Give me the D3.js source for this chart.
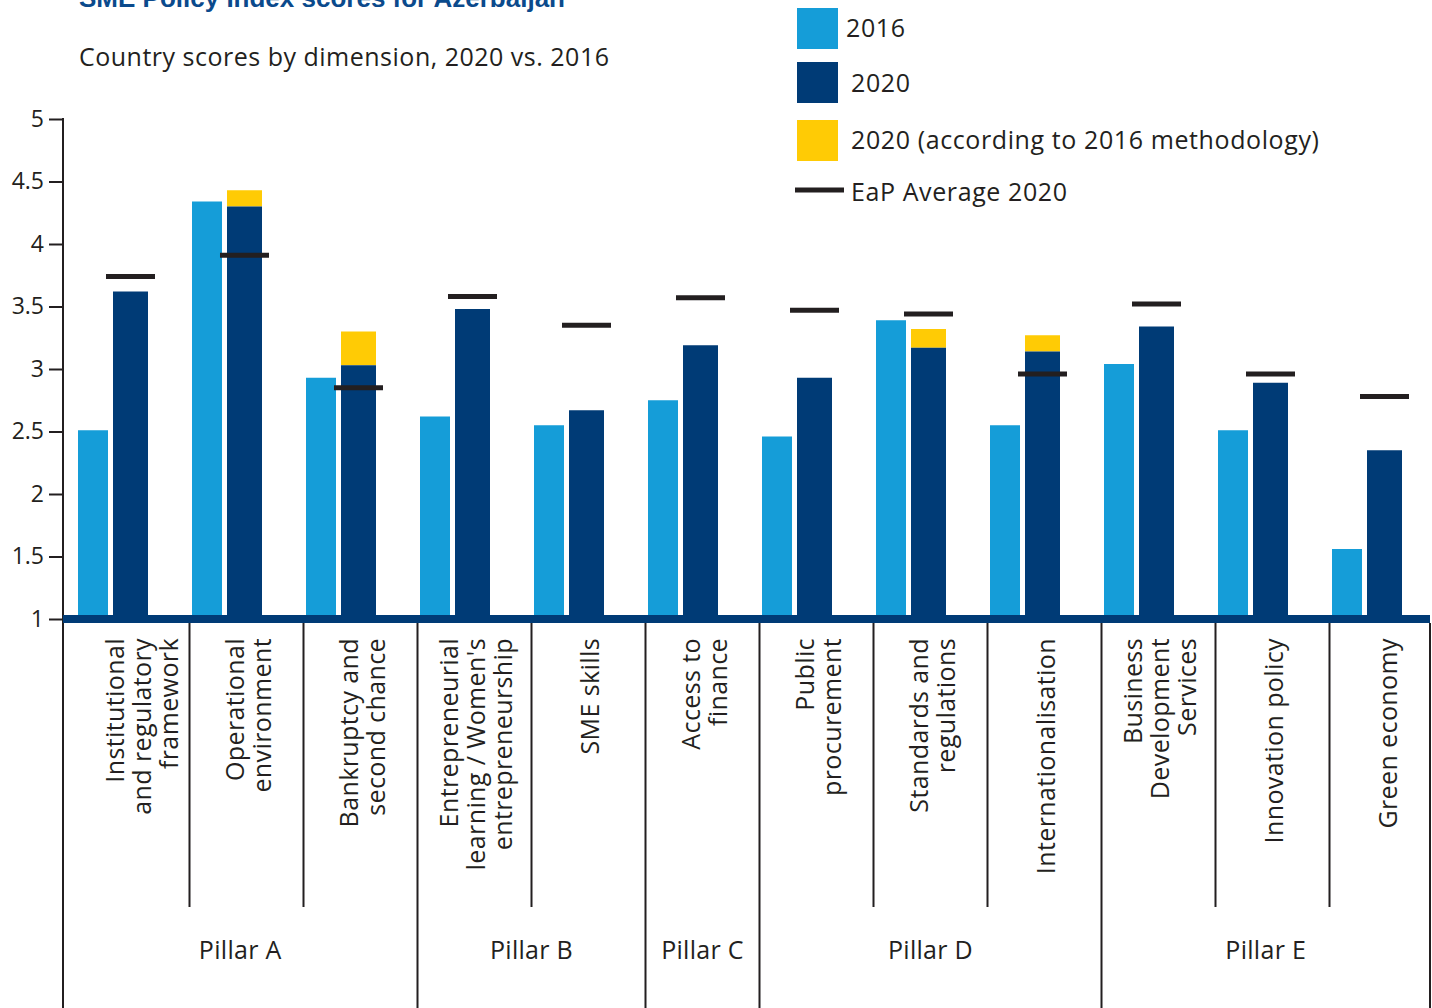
<!DOCTYPE html>
<html>
<head>
<meta charset="utf-8">
<script src="https://cdn.jsdelivr.net/npm/d3@7"></script>
<style>
  html, body { margin: 0; padding: 0; background: #fff; }
  svg { display: block; font-family: "Open Sans", "DejaVu Sans", sans-serif; }
</style>
</head>
<body>
<svg id="chart" width="1432" height="1008"></svg>
<script>
// SME Policy Index – Azerbaijan, scores per dimension
const categories = [
  ["Institutional", "and regulatory", "framework"],
  ["Operational", "environment"],
  ["Bankruptcy and", "second chance"],
  ["Entrepreneurial", "learning / Women's", "entrepreneurship"],
  ["SME skills"],
  ["Access to", "finance"],
  ["Public", "procurement"],
  ["Standards and", "regulations"],
  ["Internationalisation"],
  ["Business", "Development", "Services"],
  ["Innovation policy"],
  ["Green economy"]
];
const scores2016 = [2.51, 4.34, 2.93, 2.62, 2.55, 2.75, 2.46, 3.39, 2.55, 3.04, 2.51, 1.56];
const scores2020 = [3.62, 4.30, 3.03, 3.48, 2.67, 3.19, 2.93, 3.17, 3.14, 3.34, 2.89, 2.35];
const scores2020Old = [null, 4.43, 3.30, null, null, null, null, 3.32, 3.27, null, null, null];
const eapAverage = [3.74, 3.91, 2.85, 3.58, 3.35, 3.57, 3.47, 3.44, 2.96, 3.52, 2.96, 2.78];
const pillarNames = ["Pillar A", "Pillar B", "Pillar C", "Pillar D", "Pillar E"];
const pillarSizes = [3, 2, 1, 3, 3];
const yTicks = [1, 1.5, 2, 2.5, 3, 3.5, 4, 4.5, 5];
const legendItems = ["2016", "2020", "2020 (according to 2016 methodology)", "EaP Average 2020"];

const C16 = "#159dd8", C20 = "#003b76", COLD = "#ffcb05", INK = "#231f20";

const svg = d3.select("#chart");
const keys = categories.map((d, i) => "c" + i);

const axisX = 63, rightX = 1430;
const x = d3.scaleBand().domain(keys).range([78, 1402]).paddingInner(0.386).paddingOuter(0);
const step = x.step();
const y = d3.scaleLinear().domain([1, 5]).range([619, 119]);
const w16 = 30, gap = 5, w20 = x.bandwidth() - w16 - gap;

// Title and subtitle
svg.append("text").attr("x", 79).attr("y", 7)
  .attr("font-family", "Liberation Sans, Arial, sans-serif")
  .attr("font-weight", 700).attr("font-size", 26).attr("fill", "#0b4a8c")
  .text("SME Policy Index scores for Azerbaijan");
svg.append("text").attr("x", 79).attr("y", 66)
  .attr("font-size", 25).attr("letter-spacing", 0.5).attr("fill", INK)
  .text("Country scores by dimension, 2020 vs. 2016");

// Y axis
const yAxis = svg.append("g").attr("transform", `translate(${axisX},0)`)
  .call(d3.axisLeft(y).tickValues(yTicks).tickSize(14).tickPadding(5).tickFormat(d3.format("")));
yAxis.select(".domain").remove();
yAxis.selectAll(".tick line").attr("stroke", INK).attr("stroke-width", 2);
yAxis.selectAll(".tick text").attr("font-size", 23).attr("fill", INK)
  .attr("font-family", "Open Sans, sans-serif");
svg.append("line").attr("x1", axisX).attr("x2", axisX).attr("y1", y(5) - 1).attr("y2", 1008)
  .attr("stroke", INK).attr("stroke-width", 2);

// Bars
const rows = keys.map((k, i) => ({ k, i }));
svg.append("g").selectAll("rect").data(rows).join("rect")
  .attr("x", d => x(d.k)).attr("width", w16)
  .attr("y", d => y(scores2016[d.i])).attr("height", d => y(1) - y(scores2016[d.i]))
  .attr("fill", C16);
svg.append("g").selectAll("rect").data(rows.filter(d => scores2020Old[d.i] != null)).join("rect")
  .attr("x", d => x(d.k) + w16 + gap).attr("width", w20)
  .attr("y", d => y(scores2020Old[d.i])).attr("height", d => y(scores2020[d.i]) - y(scores2020Old[d.i]))
  .attr("fill", COLD);
svg.append("g").selectAll("rect").data(rows).join("rect")
  .attr("x", d => x(d.k) + w16 + gap).attr("width", w20)
  .attr("y", d => y(scores2020[d.i])).attr("height", d => y(1) - y(scores2020[d.i]))
  .attr("fill", C20);

// EaP average markers
svg.append("g").selectAll("line").data(rows).join("line")
  .attr("x1", d => x(d.k) + w16 + gap + w20 / 2 - 24.5)
  .attr("x2", d => x(d.k) + w16 + gap + w20 / 2 + 24.5)
  .attr("y1", d => y(eapAverage[d.i])).attr("y2", d => y(eapAverage[d.i]))
  .attr("stroke", INK).attr("stroke-width", 5);

// Baseline band
svg.append("rect").attr("x", axisX).attr("width", rightX - axisX)
  .attr("y", y(1) - 4).attr("height", 8).attr("fill", C20);

// Category separators and pillar boundaries
const pillarStarts = [];
let acc = 0;
pillarSizes.forEach(n => { pillarStarts.push(acc); acc += n; });
const sepX = i => i === 0 ? axisX : x(keys[i]) - 2.5;
const sepG = svg.append("g").attr("stroke", INK).attr("stroke-width", 2);
keys.forEach((k, i) => {
  if (i === 0) return;
  const isPillar = pillarStarts.includes(i);
  sepG.append("line").attr("x1", sepX(i)).attr("x2", sepX(i))
    .attr("y1", y(1) + 4).attr("y2", isPillar ? 1008 : 907);
});
sepG.append("line").attr("x1", rightX).attr("x2", rightX).attr("y1", y(1) + 4).attr("y2", 1008);

// Category labels (rotated, reading upwards, top-aligned)
const lineGap = 27;
const labG = svg.append("g");
categories.forEach((lines, i) => {
  // the first cell starts at the axis, so its label block sits a little further right
  const cx = x(keys[i]) + step / 2 + (i === 0 ? 8 : 0);
  const n = lines.length;
  lines.forEach((t, j) => {
    const off = (j - (n - 1) / 2) * lineGap;
    labG.append("text")
      .attr("transform", `translate(${cx + off + 8},638) rotate(-90)`)
      .attr("text-anchor", "end").attr("font-size", 25).attr("letter-spacing", 0.4).attr("fill", INK)
      .text(t);
  });
});

// Pillar labels
pillarNames.forEach((name, p) => {
  const a = sepX(pillarStarts[p]);
  const b = p + 1 < pillarNames.length ? sepX(pillarStarts[p + 1]) : rightX;
  svg.append("text").attr("x", (a + b) / 2).attr("y", 959)
    .attr("text-anchor", "middle").attr("font-size", 25).attr("fill", INK)
    .attr("letter-spacing", 0.3)
    .text(name);
});

// Legend
const lg = svg.append("g");
const swY = [8, 62, 120];
const swC = [C16, C20, COLD];
swY.forEach((sy, i) => {
  lg.append("rect").attr("x", 797).attr("y", sy).attr("width", 41).attr("height", 41).attr("fill", swC[i]);
});
lg.append("line").attr("x1", 795).attr("x2", 844).attr("y1", 190).attr("y2", 190)
  .attr("stroke", INK).attr("stroke-width", 5);
const lx = [846, 851, 851, 851];
const ly = [37, 92, 149, 201];
legendItems.forEach((t, i) => {
  lg.append("text").attr("x", lx[i]).attr("y", ly[i]).attr("font-size", 25)
    .attr("letter-spacing", 0.6).attr("fill", INK).text(t);
});
</script>
</body>
</html>
